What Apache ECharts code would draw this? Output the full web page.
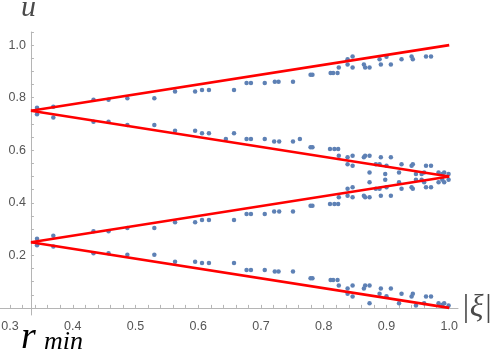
<!DOCTYPE html>
<html>
<head>
<meta charset="utf-8">
<script src="https://cdn.jsdelivr.net/npm/echarts@6/dist/echarts.min.js"></script>
<style>
html,body{margin:0;padding:0;background:#fff}
#chart{width:498px;height:351px}
</style>
</head>
<body>
<div id="chart"></div>
<script>
// |xi| and u of the sampled points, one pair of arrays per band (top to bottom)
const band1X = [0.343,0.369,0.433,0.457,0.487,0.530,0.563,0.595,0.606,0.617,0.657,0.677,0.684,0.706,0.722,0.728,0.751,0.779,0.782,0.811,0.815,0.822,0.824,0.838,0.838,0.846,0.846,0.864,0.866,0.873,0.889,0.891,0.900,0.907,0.924,0.940,0.942,0.963,0.971]
const band1U = [0.762,0.766,0.792,0.792,0.798,0.798,0.824,0.824,0.829,0.829,0.829,0.856,0.856,0.856,0.861,0.861,0.861,0.887,0.887,0.894,0.894,0.894,0.915,0.946,0.926,0.957,0.915,0.926,0.915,0.915,0.946,0.926,0.956,0.926,0.946,0.957,0.946,0.957,0.957]

const band2X = [0.343,0.369,0.433,0.457,0.487,0.530,0.563,0.595,0.606,0.617,0.644,0.657,0.677,0.684,0.706,0.721,0.729,0.751,0.762,0.779,0.782,0.810,0.817,0.823,0.824,0.838,0.846,0.864,0.866,0.873,0.891,0.907,0.838,0.846,0.883,0.889,0.900,0.924,0.940,0.942,0.963,0.971,0.873,0.898,0.920,0.947,0.956,0.960,0.983,0.989,0.992,0.999]
const band2U = [0.737,0.725,0.708,0.708,0.696,0.696,0.674,0.674,0.665,0.665,0.643,0.665,0.643,0.643,0.643,0.633,0.633,0.633,0.643,0.611,0.611,0.605,0.605,0.605,0.579,0.573,0.579,0.573,0.579,0.579,0.573,0.573,0.547,0.541,0.547,0.547,0.541,0.547,0.541,0.547,0.541,0.541,0.515,0.510,0.515,0.510,0.510,0.515,0.515,0.510,0.515,0.510]

const band3X = [0.343,0.369,0.433,0.457,0.487,0.530,0.563,0.595,0.606,0.617,0.657,0.677,0.684,0.706,0.721,0.729,0.751,0.779,0.782,0.810,0.817,0.823,0.824,0.838,0.846,0.864,0.866,0.873,0.891,0.907,0.838,0.846,0.883,0.889,0.900,0.924,0.940,0.942,0.963,0.971,0.873,0.898,0.920,0.947,0.956,0.960,0.983,0.989,0.992,0.999]
const band3U = [0.263,0.275,0.292,0.292,0.304,0.304,0.326,0.326,0.335,0.335,0.335,0.357,0.357,0.357,0.367,0.367,0.367,0.389,0.389,0.395,0.395,0.395,0.421,0.427,0.421,0.427,0.421,0.421,0.427,0.427,0.453,0.459,0.453,0.453,0.459,0.453,0.459,0.453,0.459,0.459,0.478,0.488,0.478,0.488,0.488,0.478,0.478,0.488,0.478,0.488]

const band4X = [0.343,0.369,0.433,0.457,0.487,0.530,0.563,0.595,0.606,0.617,0.657,0.677,0.684,0.706,0.722,0.728,0.751,0.779,0.782,0.811,0.815,0.822,0.824,0.838,0.838,0.846,0.846,0.864,0.866,0.873,0.889,0.891,0.900,0.907,0.924,0.940,0.942,0.963,0.971,0.873,0.920,0.947,0.960,0.983,0.989,0.992,0.999]
const band4U = [0.238,0.234,0.208,0.208,0.202,0.202,0.176,0.176,0.171,0.171,0.171,0.144,0.144,0.144,0.139,0.139,0.139,0.113,0.113,0.106,0.106,0.106,0.085,0.054,0.074,0.043,0.085,0.074,0.085,0.085,0.054,0.074,0.044,0.074,0.054,0.043,0.054,0.043,0.043,0.018,0.018,0.009,0.018,0.018,0.012,0.018,0.009]

// red guide lines, [start, end] in data coords
const guideLines = [
    [[0.3333,0.75],[1,1]],
    [[0.3333,0.75],[1,0.5]],
    [[0.3333,0.25],[1,0.5]],
    [[0.3333,0.25],[1,0]]
]

const xLabels = [0.3,0.4,0.5,0.6,0.7,0.8,0.9,1.0]
const xTicks = [0.3,0.32,0.34,0.36,0.38,0.4,0.42,0.44,0.46,0.48,0.5,0.52,0.54,0.56,0.58,0.6,0.62,0.64,0.66,0.68,0.7,0.72,0.74,0.76,0.78,0.8,0.82,0.84,0.86,0.88,0.9,0.92,0.94,0.96,0.98,1.0]
const yLabels = [0.2,0.4,0.6,0.8,1.0]
const yTicks = [0.05,0.1,0.15,0.2,0.25,0.3,0.35,0.4,0.45,0.5,0.55,0.6,0.65,0.7,0.75,0.8,0.85,0.9,0.95,1.0,1.05]

const xMin = 0.284, xMax = 1.014
const yMin = -0.027, yMax = 1.05
const yAxisAt = 0.3333

const gridLeft = 0, gridWidth = 458
const axisColor = "#b5b5b5"
const labelColor = "#555"

const chart = echarts.init(document.getElementById("chart"))

const zip = (xs, us) => xs.map((x, i) => [x, us[i]])

const scatterSeries = [[band1X,band1U],[band2X,band2U],[band3X,band3U],[band4X,band4U]].map(b => ({
    type: "scatter",
    data: zip(b[0], b[1]),
    symbolSize: 4.5,
    itemStyle: {color: "#5e81b5", opacity: 1},
    z: 2,
    silent: true
}))

const lineSeries = guideLines.map(seg => ({
    type: "line",
    data: seg,
    showSymbol: false,
    lineStyle: {color: "#ff0000", width: 2.6},
    z: 3,
    silent: true
}))

// y axis sits at |xi| = 1/3, so push it inwards from the grid edge
const yOffset = -(yAxisAt - xMin) / (xMax - xMin) * gridWidth

const option = {
    animation: false,
    grid: {left: gridLeft, width: gridWidth, top: 32, bottom: 36, outerBoundsMode: "none"},
    xAxis: {
        type: "value", min: xMin, max: xMax,
        axisLine: {onZero: true, lineStyle: {color: axisColor, width: 1}},
        axisTick: {show: true, inside: true, length: 3, customValues: xTicks, lineStyle: {color: axisColor}},
        axisLabel: {customValues: xLabels, formatter: v => v.toFixed(1), color: labelColor, fontSize: 12.5, fontFamily: "Liberation Sans", margin: 5},
        splitLine: {show: false}
    },
    yAxis: {
        type: "value", min: yMin, max: yMax, offset: yOffset,
        axisLine: {show: true, onZero: false, lineStyle: {color: axisColor, width: 1}},
        axisTick: {show: true, inside: true, length: 3, customValues: yTicks, lineStyle: {color: axisColor}},
        axisLabel: {customValues: yLabels, formatter: v => v.toFixed(1), color: labelColor, fontSize: 12.5, fontFamily: "Liberation Sans", margin: 5},
        splitLine: {show: false}
    },
    graphic: [
        {type: "text", left: 21, top: -7, style: {text: "u", font: "italic 30px 'Liberation Serif'", fill: "#4a4a4a"}},
        {type: "text", left: 21, top: 319, style: {text: "r", font: "italic 38px 'Liberation Serif'", fill: "#000"}},
        {type: "text", left: 44, top: 329, style: {text: "min", font: "italic 26px 'Liberation Serif'", fill: "#000"}},
        {type: "text", left: 461, top: 292, style: {text: "|ξ|", font: "italic 32px 'Liberation Serif'", fill: "#4a4a4a"}}
    ],
    series: [...scatterSeries, ...lineSeries]
}

chart.setOption(option)
</script>
</body>
</html>
